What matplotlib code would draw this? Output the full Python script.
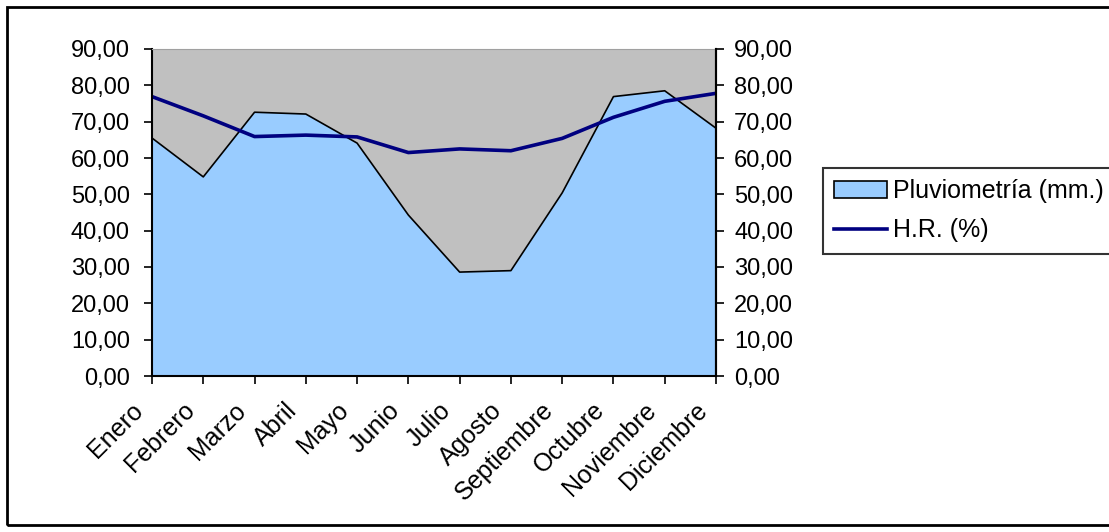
import numpy as np
import matplotlib.pyplot as plt
import matplotlib.transforms as mtransforms
from matplotlib.patches import Rectangle

plt.rcParams['font.family'] = ['Liberation Sans', 'DejaVu Sans']

meses = ["Enero", "Febrero", "Marzo", "Abril", "Mayo", "Junio", "Julio",
         "Agosto", "Septiembre", "Octubre", "Noviembre", "Diciembre"]
pluviometria = [65.5, 54.8, 72.6, 72.1, 64.1, 44.3, 28.6, 29.0, 50.4, 76.9, 78.5, 68.2]
humedad = [76.9, 71.6, 65.9, 66.3, 65.8, 61.5, 62.5, 62.0, 65.4, 71.2, 75.6, 77.8]
ticks = [0, 10, 20, 30, 40, 50, 60, 70, 80, 90]

fig = plt.figure(figsize=(11.09, 5.32), dpi=100)
fig.patches.append(Rectangle((7/1109, 7/532), 1.1, (532-14)/532, transform=fig.transFigure,
                             fill=False, edgecolor='black', linewidth=2))

ax = fig.add_axes([152/1109, 156/532, 564/1109, 327/532])
ax.set_facecolor('#C0C0C0')
x = np.arange(len(meses))
ax.fill_between(x, 0, pluviometria, facecolor='#99CCFF', edgecolor='none')
ax.plot(x, pluviometria, color='black', linewidth=1.2)
ax.plot(x, humedad, color='#000080', linewidth=2.6)

ax.set_xlim(0, len(meses) - 1)
ax.set_ylim(0, 90)
ax.set_yticks(ticks)
ax.set_yticklabels(["%d,00" % t for t in ticks], fontsize=17)
ax.set_xticks(x)
ax.set_xticklabels(meses, rotation=45, ha='right', va='center', rotation_mode='anchor', fontsize=18)
ax.tick_params(axis='y', direction='out', length=6, width=1.2, pad=10)
ax.tick_params(axis='x', direction='out', length=6, width=1.2, pad=16)
shift = mtransforms.ScaledTranslation(-9/72, 0, fig.dpi_scale_trans)
for lab in ax.get_xticklabels():
    lab.set_transform(lab.get_transform() + shift)

for s in ['left', 'bottom']:
    ax.spines[s].set_linewidth(1.5)
ax.spines['top'].set_color('#a0a0a0')
ax.spines['right'].set_linewidth(1.5)

ax2 = ax.twinx()
ax2.set_ylim(0, 90)
ax2.set_yticks(ticks)
ax2.set_yticklabels(["%d,00" % t for t in ticks], fontsize=17)
ax2.tick_params(axis='y', direction='out', length=6, width=1.2, pad=7)
ax2.spines['right'].set_linewidth(1.5)
ax2.spines['top'].set_visible(False)
ax2.spines['left'].set_visible(False)
ax2.spines['bottom'].set_visible(False)

area_handle = Rectangle((0, 0), 1, 1, facecolor='#99CCFF', edgecolor='black', linewidth=1.2)
line_handle, = ax.plot([], [], color='#000080', linewidth=2.6)
leg = fig.legend([area_handle, line_handle], ["Pluviometría (mm.)", "H.R. (%)"],
                 loc='upper left', bbox_to_anchor=(823/1109, 1 - 168/532),
                 fontsize=18, frameon=True, fancybox=False, borderaxespad=0,
                 handlelength=2.1, handletextpad=0.25, borderpad=0.45, labelspacing=0.6)
leg.get_frame().set_edgecolor('black')
leg.get_frame().set_linewidth(1.5)

fig.savefig("out.png", dpi=100)
